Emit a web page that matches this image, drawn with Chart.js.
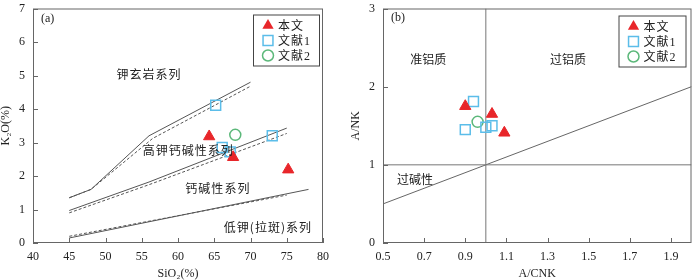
<!DOCTYPE html>
<html>
<head>
<meta charset="utf-8">
<script src="https://cdn.jsdelivr.net/npm/chart.js@4"></script>
<style>
  body { margin: 0; background: #fff; }
  .pane { position: absolute; top: 0; width: 350px; height: 280px; }
</style>
</head>
<body>
<div class="pane" style="left:0"><canvas id="chartA" width="350" height="280"></canvas></div>
<div class="pane" style="left:350px"><canvas id="chartB" width="350" height="280"></canvas></div>
<script>
// panel (a): K2O vs SiO2
const sio2Ticks = [40, 45, 50, 55, 60, 65, 70, 75, 80];
const k2oTicks = [0, 1, 2, 3, 4, 5, 6, 7];
const thisSiO2 = [64.3, 67.6, 75.2];
const thisK2O = [3.18, 2.56, 2.19];
const ref1SiO2 = [65.2, 66.1, 67.2, 73.0];
const ref1K2O = [4.11, 2.85, 2.72, 3.2];
const ref2SiO2 = [67.9];
const ref2K2O = [3.23];
// boundary lines (solid + dashed)
const shoSiO2 = [45, 48, 56, 70];
const shoK2O = [1.35, 1.6, 3.2, 4.8];
const shoDashSiO2 = [45, 48, 56.5, 70];
const shoDashK2O = [1.35, 1.6, 3.12, 4.68];
const hkcaSiO2 = [45, 56, 75];
const hkcaK2O = [0.97, 1.82, 3.43];
const hkcaDashSiO2 = [45, 56, 75];
const hkcaDashK2O = [0.9, 1.74, 3.27];
const lowSiO2 = [45, 78];
const lowK2O = [0.15, 1.6];
const lowDashSiO2 = [45, 75];
const lowDashK2O = [0.2, 1.43];
const seriesLabelsA = [
  { text: '钾玄岩系列', x: 56.0, y: 5.03 },
  { text: '高钾钙碱性系列', x: 61.4, y: 2.76 },
  { text: '钙碱性系列', x: 65.5, y: 1.62 },
  { text: '低钾(拉斑)系列', x: 72.4, y: 0.47 }
];

// panel (b): A/NK vs A/CNK
const acnkTicks = [0.5, 0.7, 0.9, 1.1, 1.3, 1.5, 1.7, 1.9];
const ankTicks = [0, 1, 2, 3];
const thisACNK = [0.90, 1.03, 1.09];
const thisANK = [1.75, 1.65, 1.41];
const ref1ACNK = [0.94, 0.90, 1.00, 1.03];
const ref1ANK = [1.81, 1.45, 1.48, 1.50];
const ref2ACNK = [0.96];
const ref2ANK = [1.55];
const vDivACNK = [1, 1];
const vDivANK = [0, 3];
const hDivACNK = [0.5, 2.0];
const hDivANK = [1, 1];
const diagACNK = [0.5, 2.0];
const diagANK = [0.5, 2.0];
const fieldLabelsB = [
  { text: '准铝质', x: 0.72, y: 2.35 },
  { text: '过铝质', x: 1.40, y: 2.35 },
  { text: '过碱性', x: 0.656, y: 0.81 }
];

const legendNames = ['本文', '文献1', '文献2'];

const RED = '#e8262a', BLUE = '#5bbde9', GREEN = '#5cb87a';
const SERIF = '"Liberation Serif", "Times New Roman", serif';
const CJK = '"Liberation Serif", "Noto Sans CJK SC", sans-serif';

const pts = (xs, ys) => xs.map((x, i) => ({ x, y: ys[i] }));

const markerStyles = [
  { pointStyle: 'triangle', pointRadius: 6.5, backgroundColor: RED, borderColor: RED, borderWidth: 1 },
  { pointStyle: 'rect', pointRadius: 7, backgroundColor: 'rgba(0,0,0,0)', borderColor: BLUE, borderWidth: 1.5 },
  { pointStyle: 'circle', pointRadius: 5.5, backgroundColor: 'rgba(0,0,0,0)', borderColor: GREEN, borderWidth: 1.5 }
];

const markers = (sets) => sets.map((d, i) => Object.assign({ data: d, showLine: false }, markerStyles[i]));

const line = (data, dashed, color) => ({
  data, showLine: true, pointRadius: 0, borderColor: color || '#555',
  borderWidth: 1, borderDash: dashed ? [3, 2] : []
});

const axis = (min, max, tickVals, title, isX) => ({
  type: 'linear',
  position: isX ? 'bottom' : 'left',
  min, max,
  afterBuildTicks: s => { s.ticks = tickVals.map(v => ({ value: v })); },
  afterFit: s => {
    if (isX) s.height = 37; else s.width = 33;
    s.paddingLeft = s.paddingRight = s.paddingTop = s.paddingBottom = 0;
  },
  grid: { display: false, drawTicks: false },
  border: { display: false },
  ticks: {
    autoSkip: false, maxRotation: 0, padding: isX ? 7 : 8, color: '#222',
    font: { family: SERIF, size: 12 },
    callback: v => String(v)
  },
  title: { display: true, text: title, color: '#222', padding: 0, font: { family: SERIF, size: 12, lineHeight: 1 } }
});

// frame, inward ticks, annotation text and legend box
const decorate = (opts) => ({
  id: 'decorate',
  afterDatasetsDraw(chart) {
    const { ctx, chartArea: a, scales } = chart;
    ctx.save();
    ctx.strokeStyle = '#666';
    ctx.lineWidth = 1;
    ctx.strokeRect(a.left + 0.5, a.top + 0.5, a.right - a.left - 1, a.bottom - a.top - 1);
    ctx.beginPath();
    scales.x.ticks.forEach(t => {
      const px = Math.round(scales.x.getPixelForValue(t.value)) + 0.5;
      ctx.moveTo(px, a.bottom); ctx.lineTo(px, a.bottom - 5);
    });
    scales.y.ticks.forEach(t => {
      const py = Math.round(scales.y.getPixelForValue(t.value)) + 0.5;
      ctx.moveTo(a.left, py); ctx.lineTo(a.left + 5, py);
    });
    ctx.stroke();

    ctx.fillStyle = '#222';
    ctx.textBaseline = 'middle';
    ctx.font = '12px ' + SERIF;
    ctx.textAlign = 'left';
    ctx.fillText(opts.panel, a.left + 8, a.top + opts.panelDy);

    ctx.font = '12px "Noto Sans CJK SC", sans-serif';
    ctx.letterSpacing = opts.spacing;
    ctx.textAlign = 'center';
    opts.texts.forEach(t => {
      ctx.fillText(t.text, scales.x.getPixelForValue(t.x), scales.y.getPixelForValue(t.y));
    });
    ctx.letterSpacing = '0px';

    // legend
    const bw = opts.legendW, bh = 51;
    const bx = a.right - opts.legendRight - bw, by = a.top + opts.legendTop;
    ctx.fillStyle = '#fff';
    ctx.fillRect(bx, by, bw, bh);
    ctx.strokeStyle = '#444';
    ctx.strokeRect(bx + 0.5, by + 0.5, bw, bh);
    legendNames.forEach((name, i) => {
      const cx = bx + 15, cy = by + 11 + i * 15;
      const st = markerStyles[i];
      ctx.lineWidth = st.borderWidth;
      ctx.strokeStyle = st.borderColor;
      ctx.fillStyle = st.backgroundColor;
      ctx.beginPath();
      if (i === 0) {
        const r = st.pointRadius;
        ctx.moveTo(cx, cy - r);
        ctx.lineTo(cx + r * 0.866, cy + r / 2);
        ctx.lineTo(cx - r * 0.866, cy + r / 2);
        ctx.closePath();
        ctx.fill();
      } else if (i === 1) {
        const h = st.pointRadius * Math.SQRT1_2;
        ctx.rect(cx - h, cy - h, 2 * h, 2 * h);
        ctx.stroke();
      } else {
        ctx.arc(cx, cy, st.pointRadius, 0, Math.PI * 2);
        ctx.stroke();
      }
      ctx.fillStyle = '#222';
      ctx.textAlign = 'left';
      ctx.font = '12px ' + CJK;
      ctx.letterSpacing = '1px';
      ctx.fillText(name, bx + 25, cy + 1);
      ctx.letterSpacing = '0px';
    });
    ctx.restore();
  }
});

const baseOptions = (scales, pad) => ({
  responsive: false,
  animation: false,
  layout: { padding: pad },
  scales,
  plugins: { legend: { display: false }, tooltip: { enabled: false } }
});

new Chart(document.getElementById('chartA'), {
  type: 'scatter',
  data: {
    datasets: [
      ...markers([pts(thisSiO2, thisK2O), pts(ref1SiO2, ref1K2O), pts(ref2SiO2, ref2K2O)]),
      line(pts(shoSiO2, shoK2O), false),
      line(pts(shoDashSiO2, shoDashK2O), true),
      line(pts(hkcaSiO2, hkcaK2O), false),
      line(pts(hkcaDashSiO2, hkcaDashK2O), true),
      line(pts(lowSiO2, lowK2O), false),
      line(pts(lowDashSiO2, lowDashK2O), true)
    ]
  },
  options: baseOptions({
    x: axis(40, 80, sio2Ticks, 'SiO₂(%)', true),
    y: axis(0, 7, k2oTicks, 'K₂O(%)', false)
  }, { left: 0, right: 27, top: 5, bottom: 0 }),
  plugins: [decorate({ panel: '(a)', panelDy: 10, texts: seriesLabelsA, spacing: '1px', legendW: 66, legendRight: 4, legendTop: 6 })]
});

new Chart(document.getElementById('chartB'), {
  type: 'scatter',
  data: {
    datasets: [
      ...markers([pts(thisACNK, thisANK), pts(ref1ACNK, ref1ANK), pts(ref2ACNK, ref2ANK)]),
      line(pts(vDivACNK, vDivANK), false, '#777'),
      line(pts(hDivACNK, hDivANK), false, '#777'),
      line(pts(diagACNK, diagANK), false, '#666')
    ]
  },
  options: baseOptions({
    x: axis(0.5, 2.0, acnkTicks, 'A/CNK', true),
    y: axis(0, 3, ankTicks, 'A/NK', false)
  }, { left: 0, right: 1, top: 6, bottom: 0 }),
  plugins: [decorate({ panel: '(b)', panelDy: 9, texts: fieldLabelsB, spacing: '0px', legendW: 67, legendRight: 6, legendTop: 7 })]
});
</script>
</body>
</html>
